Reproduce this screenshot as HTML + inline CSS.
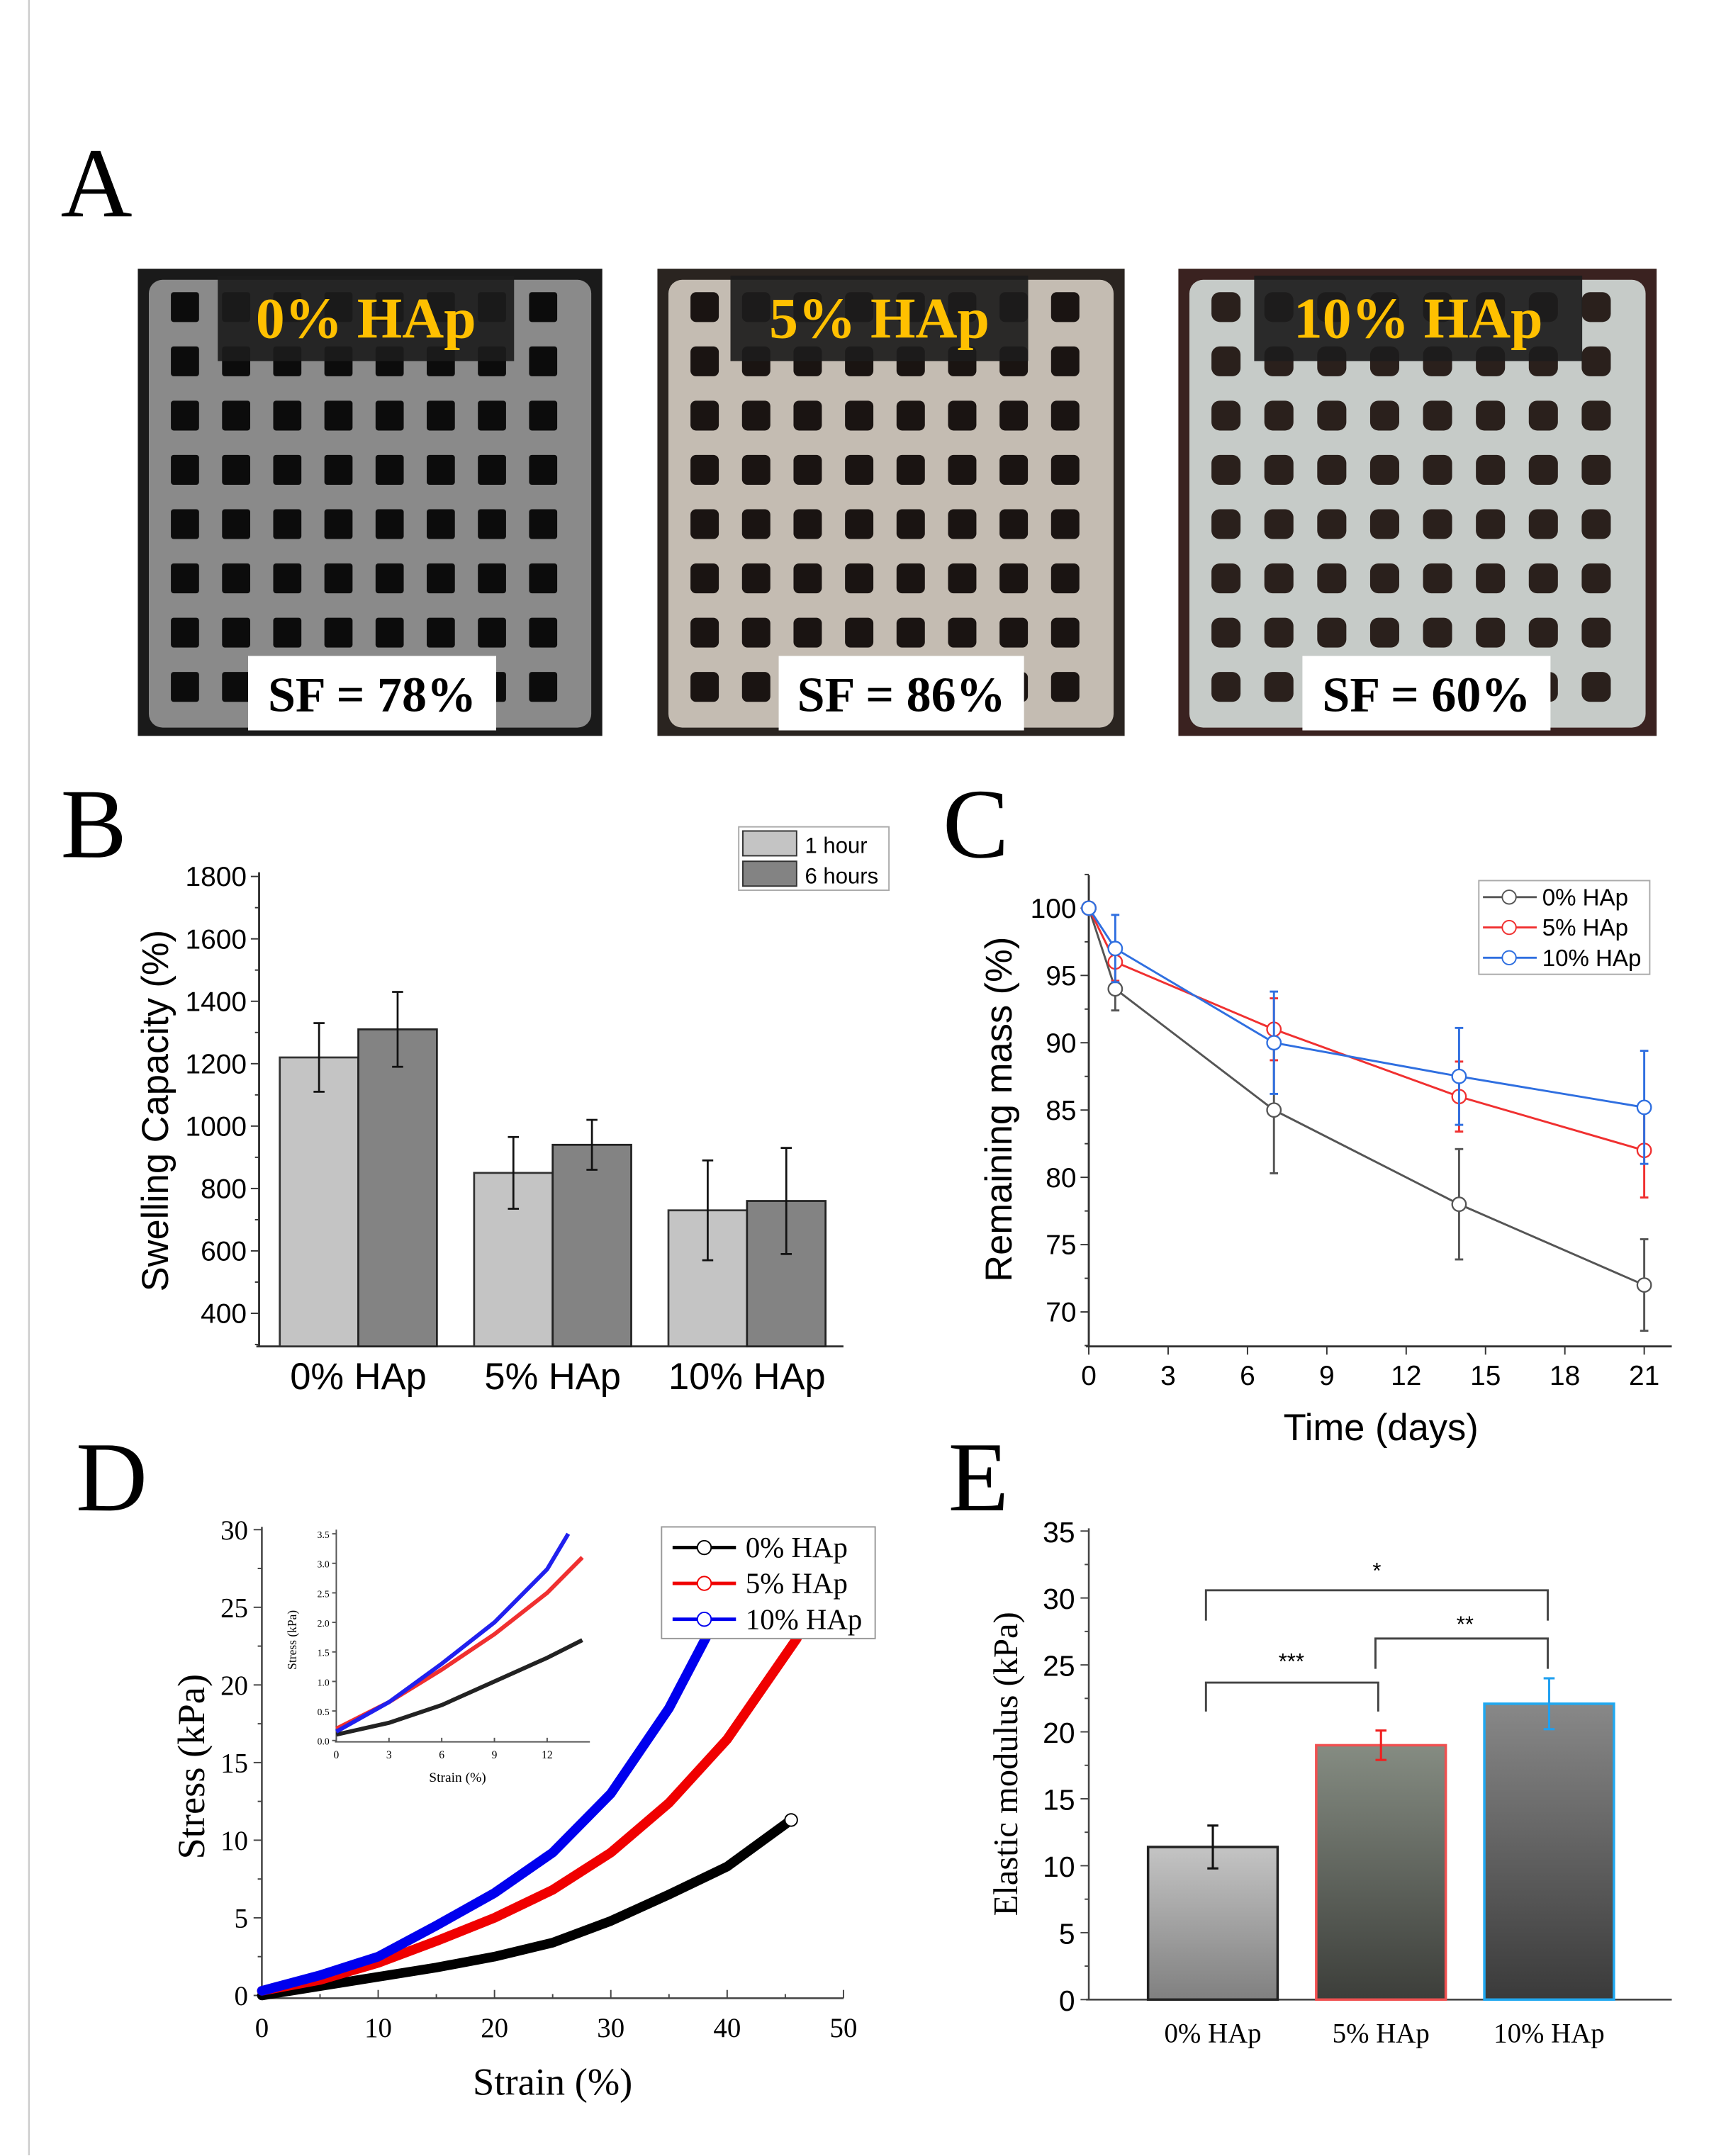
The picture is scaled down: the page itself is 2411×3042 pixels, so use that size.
<!DOCTYPE html>
<html><head><meta charset="utf-8"><style>
html,body{margin:0;padding:0;background:#fff}
svg{display:block}
.s{font-family:"Liberation Sans",sans-serif}
.r{font-family:"Liberation Serif",serif}
</style></head><body>
<svg id="fig" width="2411" height="3042" viewBox="0 0 1240 1564.5" preserveAspectRatio="none" xmlns="http://www.w3.org/2000/svg">
<defs>
<linearGradient id="g0" x1="0" y1="0" x2="0" y2="1"><stop offset="0" stop-color="#c4c4c4"/><stop offset="1" stop-color="#808080"/></linearGradient>
<linearGradient id="g1" x1="0" y1="0" x2="0" y2="1"><stop offset="0" stop-color="#858c82"/><stop offset="1" stop-color="#3c3e3a"/></linearGradient>
<linearGradient id="g2" x1="0" y1="0" x2="0" y2="1"><stop offset="0" stop-color="#888"/><stop offset="1" stop-color="#3a3a3a"/></linearGradient>
</defs>
<line x1="21" y1="0" x2="21" y2="1564" stroke="#ccc" stroke-width="1.2"/>
<g id="panelA">
<text x="44" y="157" class="r" font-size="72">A</text>
</g>
<g id="panelB"><text x="44" y="622" class="r" font-size="72">B</text></g>
<g id="panelC"><text x="684" y="622" class="r" font-size="72">C</text></g>
<g id="panelD"><text x="55" y="1096" class="r" font-size="72">D</text></g>
<g id="panelE"><text x="688" y="1096" class="r" font-size="72">E</text></g>
</svg>
<script>
// ---------- Panel B data ----------
const bGroups=["0% HAp","5% HAp","10% HAp"];
const b1h=[1220,850,730];
const b1hErr=[110,115,160];
const b6h=[1310,940,760];
const b6hErr=[120,80,170];
const bTicks=[400,600,800,1000,1200,1400,1600,1800];
// ---------- Panel C data ----------
const cDays=[0,1,7,14,21];
const c0=[100,94,85,78,72];
const c0Err=[0,1.6,4.7,4.1,3.4];
const c5=[100,96,91,86,82];
const c5Err=[0,1.4,2.3,2.6,3.5];
const c10=[100,97,90,87.5,85.2];
const c10Err=[0,2.5,3.8,3.6,4.2];
const cXTicks=[0,3,6,9,12,15,18,21];
const cYTicks=[70,75,80,85,90,95,100];
// ---------- Panel D data ----------
const dStrain0=[0,5,10,15,20,25,30,35,40,45.5];
const dStress0=[0,0.6,1.2,1.8,2.5,3.4,4.8,6.5,8.3,11.3];
const dStrain5=[0,5,10,15,20,25,30,35,40,46];
const dStress5=[0.3,1.0,2.1,3.5,5.0,6.8,9.2,12.4,16.5,23];
const dStrain10=[0,5,10,15,20,25,30,35,38.5];
const dStress10=[0.3,1.3,2.5,4.5,6.6,9.2,13,18.5,23.5];
const dXTicks=[0,10,20,30,40,50];
const dYTicks=[0,5,10,15,20,25,30];
const inStrain=[0,3,6,9,12,14];
const inStress0=[0.1,0.3,0.6,1.0,1.4,1.7];
const inStress5=[0.2,0.65,1.2,1.8,2.5,3.1];
const inStrain10=[0,3,6,9,12,13.2];
const inStress10=[0.15,0.65,1.3,2.0,2.9,3.5];
const inXTicks=[0,3,6,9,12];
const inYTicks=[0,0.5,1.0,1.5,2.0,2.5,3.0,3.5];
// ---------- Panel E data ----------
const eGroups=["0% HAp","5% HAp","10% HAp"];
const eVals=[11.4,19.0,22.1];
const eErr=[1.6,1.1,1.9];
const eTicks=[0,5,10,15,20,25,30,35];

const NS="http://www.w3.org/2000/svg";
function mk(parent,tag,attrs,txt){const e=document.createElementNS(NS,tag);for(const k in attrs)e.setAttribute(k,attrs[k]);if(txt!==undefined)e.textContent=txt;parent.appendChild(e);return e;}

// ---------- Panel A photos ----------
const A=document.getElementById('panelA');
const photos=[
 {x:100,w:337,bg:"#1a1a1a",body:"#8a8a8a",hole:"#0c0c0c",cols:8,rows:8,rx:2,lab:"0% HAp",sf:"SF = 78%",lx:158,lw:215,sx:180,sw:180},
 {x:477,w:339,bg:"#2a2420",body:"#c4bcb2",hole:"#1a1412",cols:8,rows:8,rx:4,lab:"5% HAp",sf:"SF = 86%",lx:530,lw:216,sx:565,sw:178},
 {x:855,w:347,bg:"#3a2220",body:"#c6cbc8",hole:"#2a201c",cols:8,rows:8,rx:6,lab:"10% HAp",sf:"SF = 60%",lx:910,lw:238,sx:945,sw:180}
];
photos.forEach((p,i)=>{
 const g=mk(A,'g',{});
 
 
 mk(g,'rect',{x:p.x,y:195,width:p.w,height:339,fill:p.bg});
 mk(g,'rect',{x:p.x+8,y:203,width:p.w-16,height:325,rx:10,fill:p.body});
 const cw=(p.w-40)/p.cols, ch=315/p.rows;
 for(let r=0;r<p.rows;r++)for(let c=0;c<p.cols;c++){
  mk(g,'rect',{x:p.x+24+c*cw,y:212+r*ch,width:cw*0.55,height:ch*0.55,rx:p.rx,fill:p.hole});
 }
 const lb=mk(g,'rect',{x:p.lx,y:200,width:p.lw,height:62,fill:"#1c1c1c",opacity:0.92});
 
 
 const lt=mk(g,'text',{x:p.lx+p.lw/2,y:245,'text-anchor':'middle','font-size':42,'font-weight':'bold',fill:"#ffc000",class:'r'},p.lab);
 
 
 mk(g,'rect',{x:p.sx,y:476,width:p.sw,height:54,fill:"#fff"});
 const st=mk(g,'text',{x:p.sx+p.sw/2,y:516,'text-anchor':'middle','font-size':36,'font-weight':'bold',fill:"#000",class:'r'},p.sf);
 
 
});

// ---------- Panel B ----------
(function(){
 const P=document.getElementById('panelB');
 const y=v=>636+(1800-v)*(317/1400);
 const x0=188,yb=977;
 mk(P,'line',{x1:x0,y1:633,x2:x0,y2:yb,stroke:"#333","stroke-width":1.5});
 mk(P,'line',{x1:x0-2,y1:yb,x2:612,y2:yb,stroke:"#333","stroke-width":1.5});
 for(let v=300;v<=1800;v+=100){mk(P,'line',{x1:x0-(v%200===0?6:3),y1:y(v),x2:x0,y2:y(v),stroke:"#333","stroke-width":1});}
 bTicks.forEach(v=>{const t=mk(P,'text',{x:x0-9,y:y(v)+7,'text-anchor':'end','font-size':20,class:'s'},v);
  });
 const tt=mk(P,'text',{transform:'translate(122,806) rotate(-90)','text-anchor':'middle','font-size':27,class:'s'},"Swelling Capacity (%)");
 
 const starts=[203,344,485],bw=57;
 bGroups.forEach((gname,i)=>{
  const xa=starts[i];
  const r1=mk(P,'rect',{x:xa,y:y(b1h[i]),width:bw,height:yb-y(b1h[i]),fill:"#c4c4c4",stroke:"#333","stroke-width":1.4});
  
  const r2=mk(P,'rect',{x:xa+bw,y:y(b6h[i]),width:bw,height:yb-y(b6h[i]),fill:"#838383",stroke:"#222","stroke-width":1.4});
  
  [[xa+bw/2,b1h[i],b1hErr[i]],[xa+bw*1.5,b6h[i],b6hErr[i]]].forEach(([cx,v,e])=>{
   mk(P,'line',{x1:cx,y1:y(v+e),x2:cx,y2:y(v-e),stroke:"#111","stroke-width":1.4});
   mk(P,'line',{x1:cx-4,y1:y(v+e),x2:cx+4,y2:y(v+e),stroke:"#111","stroke-width":1.4});
   mk(P,'line',{x1:cx-4,y1:y(v-e),x2:cx+4,y2:y(v-e),stroke:"#111","stroke-width":1.4});
  });
  const t=mk(P,'text',{x:xa+bw,y:1008,'text-anchor':'middle','font-size':27,class:'s'},gname);
  
 });
 const lg=mk(P,'g',{});
 mk(lg,'rect',{x:536,y:600,width:109,height:46,fill:"#fff",stroke:"#aaa","stroke-width":1});
 mk(lg,'rect',{x:539,y:603,width:39,height:18,fill:"#c4c4c4",stroke:"#333"});
 mk(lg,'rect',{x:539,y:625,width:39,height:18,fill:"#838383",stroke:"#333"});
 mk(lg,'text',{x:584,y:619,'font-size':16,class:'s'},"1 hour");
 mk(lg,'text',{x:584,y:641,'font-size':16,class:'s'},"6 hours");
})();

// ---------- Panel C ----------
(function(){
 const P=document.getElementById('panelC');
 const x=d=>790+d*(403/21), y=v=>659+(100-v)*(293/30);
 mk(P,'line',{x1:790,y1:635,x2:790,y2:977,stroke:"#333","stroke-width":1.5});
 mk(P,'line',{x1:788,y1:977,x2:1213,y2:977,stroke:"#333","stroke-width":1.5});
 for(let v=67.5;v<=102.5;v+=2.5){mk(P,'line',{x1:790-(v%5===0?6:3),y1:y(v),x2:790,y2:y(v),stroke:"#333"});}
 cXTicks.forEach(d=>{mk(P,'line',{x1:x(d),y1:977,x2:x(d),y2:983,stroke:"#333"});
  const t=mk(P,'text',{x:x(d),y:1005,'text-anchor':'middle','font-size':20,class:'s'},d);
  });
 cYTicks.forEach(v=>{const t=mk(P,'text',{x:781,y:y(v)+7,'text-anchor':'end','font-size':20,class:'s'},v);
  });
 const tx=mk(P,'text',{x:1002,y:1045,'text-anchor':'middle','font-size':27,class:'s'},"Time (days)");
 
 const ty=mk(P,'text',{transform:'translate(734,805) rotate(-90)','text-anchor':'middle','font-size':27,class:'s'},"Remaining mass (%)");
 
 const series=[[c0,c0Err,"#555","0% HAp"],[c5,c5Err,"#f03030","5% HAp"],[c10,c10Err,"#2f6fe0","10% HAp"]];
 series.forEach(([vals,errs,col,name],si)=>{
  const g=mk(P,'g',{});
  mk(g,'polyline',{points:cDays.map((d,i)=>x(d)+','+y(vals[i])).join(' '),fill:'none',stroke:col,'stroke-width':1.5});
  cDays.forEach((d,i)=>{const e=errs[i];if(e>0){
   mk(g,'line',{x1:x(d),y1:y(vals[i]+e),x2:x(d),y2:y(vals[i]-e),stroke:col,'stroke-width':1.5});
   mk(g,'line',{x1:x(d)-3,y1:y(vals[i]+e),x2:x(d)+3,y2:y(vals[i]+e),stroke:col,'stroke-width':1.5});
   mk(g,'line',{x1:x(d)-3,y1:y(vals[i]-e),x2:x(d)+3,y2:y(vals[i]-e),stroke:col,'stroke-width':1.5});}
   const c=mk(g,'circle',{cx:x(d),cy:y(vals[i]),r:5,fill:'#fff',stroke:col,'stroke-width':1.2});
   });
 });
 const lg=mk(P,'g',{});
 mk(lg,'rect',{x:1073,y:639,width:124,height:68,fill:'#fff',stroke:'#aaa'});
 series.forEach(([v,e,col,name],i)=>{const yy=651+i*22;
  mk(lg,'line',{x1:1076,y1:yy,x2:1115,y2:yy,stroke:col,'stroke-width':1.5});
  mk(lg,'circle',{cx:1095,cy:yy,r:5,fill:'#fff',stroke:col});
  mk(lg,'text',{x:1119,y:yy+6,'font-size':17,class:'s'},name);});
})();

// ---------- Panel D ----------
(function(){
 const P=document.getElementById('panelD');
 const x=v=>190+v*(422/50), y=v=>1448-v*(338/30);
 mk(P,'line',{x1:190,y1:1108,x2:190,y2:1450,stroke:'#444','stroke-width':1.3});
 mk(P,'line',{x1:188,y1:1450,x2:612,y2:1450,stroke:'#444','stroke-width':1.3});
 for(let v=0;v<=30;v+=2.5){mk(P,'line',{x1:190-(v%5===0?6:3),y1:y(v),x2:190,y2:y(v),stroke:'#444'});}
 for(let v=0;v<=50;v+=5){mk(P,'line',{x1:x(v),y1:1450,x2:x(v),y2:1450-(v%10===0?6:3),stroke:'#444'});}
 dXTicks.forEach(v=>{const t=mk(P,'text',{x:x(v),y:1478,'text-anchor':'middle','font-size':20,class:'r'},v);
  });
 dYTicks.forEach(v=>{const t=mk(P,'text',{x:180,y:y(v)+7,'text-anchor':'end','font-size':20,class:'r'},v);
  });
 const tx=mk(P,'text',{x:401,y:1520,'text-anchor':'middle','font-size':28,class:'r'},"Strain (%)");
 
 const ty=mk(P,'text',{transform:'translate(148,1282) rotate(-90)','text-anchor':'middle','font-size':28,class:'r'},"Stress (kPa)");
 
 const ser=[[dStrain0,dStress0,'#000'],[dStrain5,dStress5,'#f00000'],[dStrain10,dStress10,'#0000ee']];
 ser.forEach(([xs,ys,col],i)=>{const l=mk(P,'polyline',{points:xs.map((v,k)=>x(v)+','+y(ys[k])).join(' '),fill:'none',stroke:col,'stroke-width':7,'stroke-linejoin':'round','stroke-linecap':'round'});
  });
 mk(P,'circle',{cx:x(dStrain0[dStrain0.length-1]),cy:y(dStress0[dStress0.length-1]),r:4.5,fill:'#fff',stroke:'#000'});
 // inset
 const ix=v=>244+v*(153/12), iy=v=>1263-v*(150/3.5);
 const ig=mk(P,'g',{});
 mk(ig,'line',{x1:244,y1:1110,x2:244,y2:1264,stroke:'#555'});
 mk(ig,'line',{x1:243,y1:1264,x2:428,y2:1264,stroke:'#555'});
 inXTicks.forEach(v=>{mk(ig,'line',{x1:ix(v),y1:1264,x2:ix(v),y2:1261,stroke:'#555'});mk(ig,'text',{x:ix(v),y:1276,'text-anchor':'middle','font-size':8,class:'r'},v);});
 inYTicks.forEach(v=>{mk(ig,'line',{x1:241,y1:iy(v),x2:244,y2:iy(v),stroke:'#555'});mk(ig,'text',{x:239,y:iy(v)+3,'text-anchor':'end','font-size':7,class:'r'},v.toFixed(1));});
 mk(ig,'text',{x:332,y:1293,'text-anchor':'middle','font-size':10,class:'r'},"Strain (%)");
 mk(ig,'text',{transform:'translate(215,1190) rotate(-90)','text-anchor':'middle','font-size':9,class:'r'},"Stress (kPa)");
 [[inStrain,inStress0,'#222'],[inStrain,inStress5,'#f03030'],[inStrain10,inStress10,'#2020ee']].forEach(([xs,ys,col])=>{
  mk(ig,'polyline',{points:xs.map((v,k)=>ix(v)+','+iy(ys[k])).join(' '),fill:'none',stroke:col,'stroke-width':3});});
 const lg=mk(P,'g',{});
 mk(lg,'rect',{x:480,y:1108,width:155,height:81,fill:'#fff',stroke:'#999'});
 [['#000','0% HAp'],['#f00000','5% HAp'],['#0000ee','10% HAp']].forEach(([col,n],i)=>{const yy=1123+i*26;
  mk(lg,'line',{x1:488,y1:yy,x2:534,y2:yy,stroke:col,'stroke-width':2.5});
  mk(lg,'circle',{cx:511,cy:yy,r:5,fill:'#fff',stroke:col});
  mk(lg,'text',{x:541,y:yy+7,'font-size':21,class:'r'},n);});
})();

// ---------- Panel E ----------
(function(){
 const P=document.getElementById('panelE');
 const y=v=>1451-v*(340/35);
 mk(P,'line',{x1:790,y1:1109,x2:790,y2:1451,stroke:'#444','stroke-width':1.3});
 mk(P,'line',{x1:788,y1:1451,x2:1213,y2:1451,stroke:'#444','stroke-width':1.3});
 for(let v=0;v<=35;v+=2.5){mk(P,'line',{x1:790-(v%5===0?6:3),y1:y(v),x2:790,y2:y(v),stroke:'#444'});}
 eTicks.forEach(v=>{const t=mk(P,'text',{x:780,y:y(v)+8,'text-anchor':'end','font-size':21,class:'s'},v);
  });
 const ty=mk(P,'text',{transform:'translate(738,1280) rotate(-90)','text-anchor':'middle','font-size':25,class:'r'},"Elastic modulus (kPa)");
 
 const xs=[833,955,1077],bw=94,fills=['url(#g0)','url(#g1)','url(#g2)'],strokes=['#222','#f05050','#20a8f0'],errc=['#111','#f02020','#20a0f0'];
 eGroups.forEach((n,i)=>{
  const r=mk(P,'rect',{x:xs[i],y:y(eVals[i]),width:bw,height:1451-y(eVals[i]),fill:fills[i],stroke:strokes[i],'stroke-width':1.8});
  
  const cx=xs[i]+bw/2-(i===0?0:0);const v=eVals[i],e=eErr[i];
  mk(P,'line',{x1:cx,y1:y(v+e),x2:cx,y2:y(v-e),stroke:errc[i],'stroke-width':1.6});
  mk(P,'line',{x1:cx-4,y1:y(v+e),x2:cx+4,y2:y(v+e),stroke:errc[i],'stroke-width':1.6});
  mk(P,'line',{x1:cx-4,y1:y(v-e),x2:cx+4,y2:y(v-e),stroke:errc[i],'stroke-width':1.6});
  const t=mk(P,'text',{x:cx,y:1482,'text-anchor':'middle','font-size':20,class:'r'},n);
  
 });
 const br=[[875,1000,1221,1242,1242,'***',937,1211],[998,1123,1189,1211,1211,'**',1063,1184],[875,1123,1154,1176,1176,'*',999,1145]];
 br.forEach(([a,b,top,ya,yb,s,tx,tyy],i)=>{
  const p=mk(P,'path',{d:`M${a},${ya} V${top} H${b} V${yb}`,fill:'none',stroke:'#444','stroke-width':1.5});
  
  mk(P,'text',{x:tx,y:tyy,'text-anchor':'middle','font-size':16,class:'s'},s);
 });
})();
</script>
</body></html>
